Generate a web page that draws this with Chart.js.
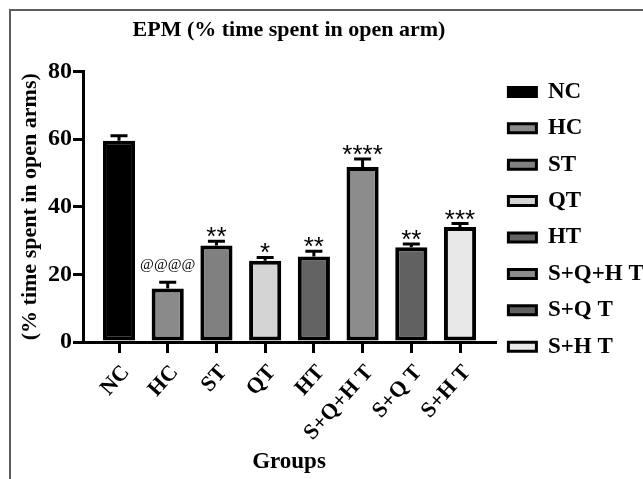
<!DOCTYPE html>
<html>
<head>
<meta charset="utf-8">
<script src="https://cdn.jsdelivr.net/npm/chart.js@4.4.1/dist/chart.umd.min.js"></script>
<style>
  html, body { margin: 0; padding: 0; background: #fff; }
  #wrap { position: relative; width: 643px; height: 479px; overflow: hidden; }
  #frame { position: absolute; left: 9px; top: 9px; right: -5px; bottom: -5px; border-top: 2px solid #5c5c5c; border-left: 2px solid #5c5c5c; pointer-events: none; }
</style>
</head>
<body>
<div id="wrap">
  <canvas id="epmChart" width="643" height="479"></canvas>
  <div id="frame"></div>
</div>
<script>
const groups = ["NC", "HC", "ST", "QT", "HT", "S+Q+H T", "S+Q T", "S+H T"];
const openArmTime = [59.5, 15.8, 28.5, 24.0, 25.3, 51.7, 28.0, 34.0];
const openArmSem = [1.5, 1.9, 1.3, 1.0, 1.5, 2.4, 1.0, 1.0];
const significance = ["", "@@@@", "**", "*", "**", "****", "**", "***"];
const yTicks = [0, 20, 40, 60, 80];
const barFills = ["#000000", "#8a8a8a", "#808080", "#d4d4d4", "#636363", "#8c8c8c", "#616161", "#e8e8e8"];

const serif = "'Liberation Serif', 'Times New Roman', serif";

// error bars (upper half only) and the significance marks above them
const errorBarPlugin = {
  id: "errorBars",
  afterDatasetsDraw(chart) {
    const { ctx } = chart;
    const y = chart.scales.y;
    const bars = chart.getDatasetMeta(0).data;
    ctx.save();
    ctx.strokeStyle = "#000";
    ctx.fillStyle = "#000";
    ctx.lineWidth = 3;
    bars.forEach((bar, i) => {
      const top = y.getPixelForValue(openArmTime[i] + openArmSem[i]);
      ctx.beginPath();
      ctx.moveTo(bar.x, bar.y);
      ctx.lineTo(bar.x, top);
      ctx.moveTo(bar.x - 8.5, top);
      ctx.lineTo(bar.x + 8.5, top);
      ctx.stroke();

      const mark = significance[i];
      if (!mark) return;
      ctx.textAlign = "center";
      ctx.textBaseline = "alphabetic";
      if (mark.startsWith("@")) {
        ctx.font = "15px " + serif;
        ctx.fillText(mark, bar.x, top - 13);
      } else {
        ctx.font = "26px 'Liberation Sans', Arial, sans-serif";
        ctx.fillText(mark, bar.x, top + 4);
      }
    });
    ctx.restore();
  }
};

new Chart(document.getElementById("epmChart"), {
  type: "bar",
  data: {
    datasets: [{
      label: "EPM",
      data: groups.map((g, i) => ({ x: i, y: openArmTime[i] })),
      backgroundColor: barFills,
      borderColor: "#000",
      borderWidth: 4,
      borderSkipped: false,
      barPercentage: 0.66,
      categoryPercentage: 1,
    }],
  },
  options: {
    responsive: false,
    animation: false,
    layout: { padding: { right: 0 } },
    plugins: {
      title: {
        display: true,
        text: "EPM (% time spent in open arm)",
        fullSize: false,
        color: "#000",
        font: { family: serif, size: 22, weight: "bold" },
        padding: { top: 17, bottom: 28 },
      },
      legend: {
        position: "right",
        align: "start",
        maxWidth: 148,
        title: { display: true, text: " ", font: { size: 10 }, padding: { top: 0, bottom: 55 } },
        labels: {
          boxWidth: 28,
          boxHeight: 9,
          padding: 13.4,
          color: "#000",
          font: { family: serif, size: 23, weight: "bold" },
          generateLabels: () => groups.map((g, i) => ({
            text: g,
            fillStyle: barFills[i],
            strokeStyle: "#000",
            lineWidth: 3,
            fontColor: "#000",
            hidden: false,
            index: i,
            datasetIndex: 0,
          })),
        },
      },
      tooltip: { enabled: false },
    },
    scales: {
      x: {
        type: "linear",
        offset: false,
        min: -0.739,
        max: 7.718,
        afterBuildTicks: (scale) => { scale.ticks = groups.map((g, i) => ({ value: i })); },
        afterFit: (scale) => { scale.height = 137; },
        border: { color: "#000", width: 3 },
        grid: { offset: false, drawOnChartArea: false, color: "#000", lineWidth: 3, tickLength: 11 },
        ticks: {
          color: "#000",
          autoSkip: false,
          minRotation: 48,
          maxRotation: 48,
          padding: 7,
          labelOffset: 7,
          font: { family: serif, size: 22, weight: "bold" },
          callback: (value) => groups[value],
        },
        title: {
          display: true,
          text: "Groups",
          color: "#000",
          font: { family: serif, size: 23, weight: "bold" },
          padding: { top: 0, bottom: 3 },
        },
      },
      y: {
        min: 0,
        max: 80,
        afterBuildTicks: (scale) => { scale.ticks = yTicks.map((v) => ({ value: v })); },
        afterFit: (scale) => { scale.width = 83; },
        border: { color: "#000", width: 3 },
        grid: { drawOnChartArea: false, color: "#000", lineWidth: 3, tickLength: 10 },
        ticks: {
          color: "#000",
          padding: 1,
          font: { family: serif, size: 24, weight: "bold" },
        },
        title: {
          display: true,
          text: "(% time spent in open arms)",
          color: "#000",
          font: { family: serif, size: 22, weight: "bold" },
          padding: { top: 17, bottom: 0 },
        },
      },
    },
  },
  plugins: [errorBarPlugin],
});
</script>
</body>
</html>
